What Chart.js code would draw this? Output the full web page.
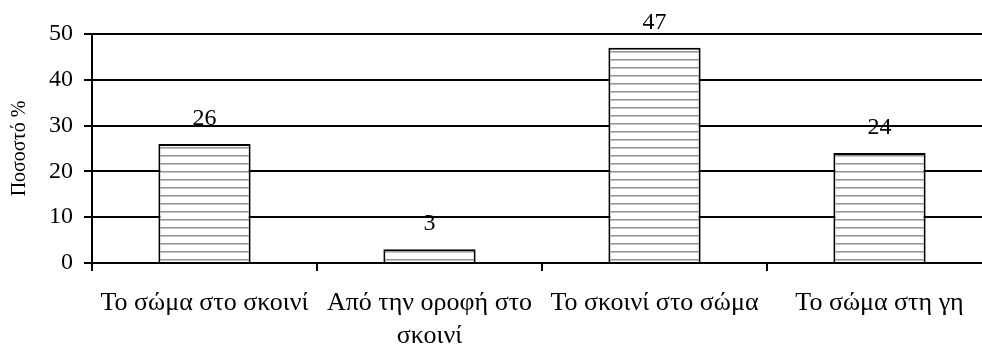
<!DOCTYPE html>
<html>
<head>
<meta charset="utf-8">
<script src="https://cdn.jsdelivr.net/npm/chart.js@4"></script>
<style>
  html, body { margin: 0; padding: 0; background: #fff; overflow: hidden; }
  #wrap { width: 1000px; height: 347px; }
</style>
</head>
<body>
<div id="wrap"><canvas id="chart"></canvas></div>
<script>
// chart data
const categories = [
  'Το σώμα στο σκοινί',
  ['Από την οροφή στο', 'σκοινί'],
  'Το σκοινί στο σώμα',
  'Το σώμα στη γη'
];
const percentages = [26, 3, 47, 24];
const yTicks = [0, 10, 20, 30, 40, 50];

const serif = '"Liberation Serif", "Times New Roman", serif';

// horizontal stripe fill like the original
function stripePattern(ctx) {
  const c = document.createElement('canvas');
  c.width = 8;
  c.height = 8;
  const p = c.getContext('2d');
  p.fillStyle = '#ffffff';
  p.fillRect(0, 0, 8, 8);
  p.fillStyle = '#959595';
  p.fillRect(0, 3, 8, 1);
  p.fillStyle = '#c4c4c4';
  p.fillRect(0, 4, 8, 1);
  return ctx.createPattern(c, 'repeat');
}

// value labels above each bar
const valueLabels = {
  id: 'valueLabels',
  afterDatasetsDraw(chart) {
    const ctx = chart.ctx;
    const meta = chart.getDatasetMeta(0);
    ctx.save();
    ctx.font = '24px ' + serif;
    ctx.fillStyle = '#000';
    ctx.textAlign = 'center';
    ctx.textBaseline = 'alphabetic';
    meta.data.forEach((bar, i) => {
      ctx.fillText(String(percentages[i]), bar.x, bar.y - 19);
    });
    ctx.restore();
  }
};

const ctx = document.getElementById('chart').getContext('2d');
new Chart(ctx, {
  type: 'bar',
  data: {
    labels: categories,
    datasets: [{
      data: percentages,
      backgroundColor: stripePattern(ctx),
      borderColor: '#000',
      borderWidth: 2,
      borderSkipped: 'start',
      categoryPercentage: 1,
      barPercentage: 0.41
    }]
  },
  options: {
    responsive: true,
    maintainAspectRatio: false,
    animation: false,
    layout: { padding: { top: 34, right: 8, left: 0, bottom: 0 } },
    plugins: {
      legend: { display: false },
      tooltip: { enabled: false }
    },
    scales: {
      x: {
        grid: {
          display: true,
          drawOnChartArea: false,
          color: '#000',
          lineWidth: 2,
          tickLength: 8
        },
        border: { color: '#000', width: 2 },
        ticks: {
          color: '#000',
          padding: 16,
          maxRotation: 0,
          autoSkip: false,
          font: { family: serif, size: 26, lineHeight: 1.25 }
        },
        afterFit(scale) { scale.height = 84; }
      },
      y: {
        min: 0,
        max: 50,
        afterBuildTicks(scale) { scale.ticks = yTicks.map(v => ({ value: v })); },
        grid: { color: '#000', lineWidth: 2, tickLength: 8 },
        border: { color: '#000', width: 2 },
        ticks: {
          color: '#000',
          padding: 11,
          font: { family: serif, size: 24 }
        },
        title: {
          display: true,
          text: 'Ποσοστό %',
          color: '#000',
          padding: { top: 8, bottom: 0 },
          font: { family: serif, size: 20 }
        },
        afterFit(scale) { scale.width = 92; }
      }
    }
  },
  plugins: [valueLabels]
});
</script>
</body>
</html>
